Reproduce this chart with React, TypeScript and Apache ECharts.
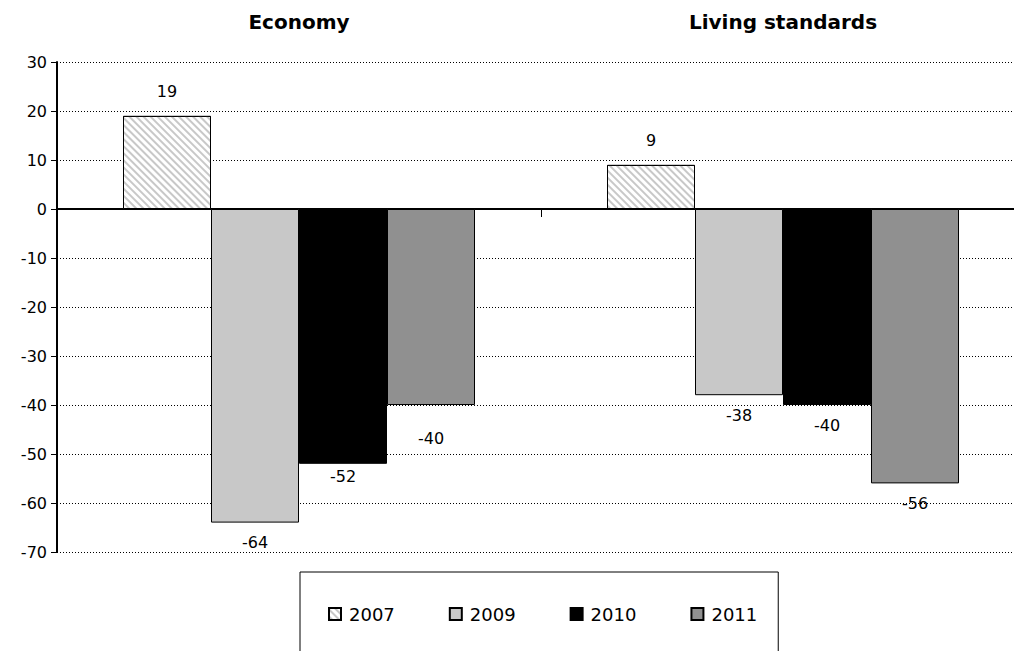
import React, { useEffect, useRef } from "react";
import * as echarts from "echarts";

const categories = ["Economy", "Living standards"];
const years = ["2007", "2009", "2010", "2011"];
const values2007 = [19, 9];
const values2009 = [-64, -38];
const values2010 = [-52, -40];
const values2011 = [-40, -56];
const yTicks = { min: -70, max: 30, interval: 10 };

const FONT = "DejaVu Sans";

export default function App() {
  const ref = useRef<HTMLDivElement>(null);
  useEffect(() => {
    if (!ref.current) return;
    const chart = echarts.init(ref.current, undefined, { renderer: "svg" });
    const seriesValues = [values2007, values2009, values2010, values2011];
    const fills = ["#ffffff", "#c8c8c8", "#000000", "#909090"];
    // label distance tweaks (Excel-like collision handling)
    const labelDist: Record<string, number> = { "3-0": 25, "2-0": 5 };
    const series = seriesValues.map((vals, si) => ({
      name: years[si],
      type: "bar",
      xAxisIndex: 0,
      barWidth: 88,
      barGap: "0%",
      itemStyle: {
        color: fills[si],
        borderColor: "#000",
        borderWidth: 1,
        ...(si === 0
          ? {
              decal: {
                symbol: "rect",
                symbolSize: 1,
                dashArrayX: [1, 0],
                dashArrayY: [2, 3],
                rotation: Math.PI / 4,
                color: "#c8c8c8",
                backgroundColor: "#ffffff",
              },
            }
          : {}),
      },
      data: vals.map((v, ci) => ({
        value: v,
        label: {
          show: true,
          position: v >= 0 ? "top" : "bottom",
          distance: labelDist[`${si}-${ci}`] ?? (v >= 0 ? 16 : 12),
          color: "#000",
          fontFamily: FONT,
          fontSize: 16,
        },
      })),
    }));
    chart.setOption({
      animation: false,
      backgroundColor: "#fff",
      textStyle: { fontFamily: FONT },
      grid: {
        left: 57,
        top: 62,
        width: 968,
        height: 490,
        containLabel: false,
        outerBoundsMode: "none",
      },
      xAxis: [
        {
          type: "category",
          data: categories,
          position: "bottom",
          axisLine: { show: true, onZero: true, lineStyle: { color: "#000", width: 2 } },
          axisTick: { show: true, length: 8, lineStyle: { color: "#000" } },
          axisLabel: { show: false },
          splitLine: { show: false },
        },
        {
          type: "category",
          data: categories,
          position: "top",
          axisLine: { show: false },
          axisTick: { show: false },
          axisLabel: {
            show: true,
            margin: 30,
            color: "#000",
            fontFamily: FONT,
            fontWeight: "bold",
            fontSize: 20,
          },
          splitLine: { show: false },
        },
      ],
      yAxis: {
        type: "value",
        min: yTicks.min,
        max: yTicks.max,
        interval: yTicks.interval,
        axisLine: { show: true, lineStyle: { color: "#000", width: 2 } },
        axisTick: { show: true, length: 6, lineStyle: { color: "#000" } },
        axisLabel: { color: "#000", fontFamily: FONT, fontSize: 16, margin: 10 },
        splitLine: { show: true, lineStyle: { color: "#000", type: [1, 2], width: 1 } },
      },
      legend: {
        data: years,
        orient: "horizontal",
        left: 300,
        top: 572,
        borderColor: "#000",
        borderWidth: 1,
        padding: [33, 21, 40, 28],
        itemWidth: 12,
        itemHeight: 12,
        itemGap: 54,
        icon: "rect",
        textStyle: { color: "#000", fontFamily: FONT, fontSize: 18, padding: [0, 0, 0, 3] },
      },
      series,
    });
    return () => chart.dispose();
  }, []);
  return (
    <div
      ref={ref}
      style={{ position: "absolute", left: 0, top: 0, width: 1014, height: 651 }}
    />
  );
}
